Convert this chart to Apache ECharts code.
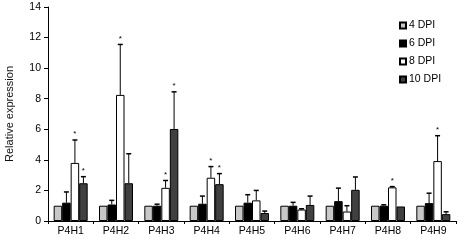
<!DOCTYPE html>
<html><head><meta charset="utf-8">
<script src="https://cdn.jsdelivr.net/npm/echarts@6/dist/echarts.min.js"></script>
<style>html,body{margin:0;padding:0;background:#fff}#c{width:459px;height:241px}</style>
</head><body><div id="c"></div>
<script>
var categories = ['P4H1','P4H2','P4H3','P4H4','P4H5','P4H6','P4H7','P4H8','P4H9'];
var seriesNames = ['4 DPI','6 DPI','8 DPI','10 DPI'];
var dpi4 = [1,1,1,1,1,1,1,1,1];
var dpi4Sd = [0,0,0,0,0,0,0,0,0];
var dpi6 = [1.2,1.08,1.0,1.13,1.2,1.0,1.3,1.0,1.17];
var dpi6Sd = [0.7,0.27,0.1,0.5,0.52,0.22,0.85,0.06,0.65];
var dpi8 = [3.8,8.25,2.17,2.83,1.35,0.75,0.62,2.2,3.92];
var dpi8Sd = [1.5,3.3,0.48,0.73,0.65,0.05,0.38,0.05,1.66];
var dpi10 = [2.47,2.47,6.02,2.41,0.52,1.05,2.04,0.95,0.45];
var dpi10Sd = [0.43,1.93,2.43,0.69,0.13,0.58,0.84,0,0.15];
var dpi4Star = [0,0,0,0,0,0,0,0,0];
var dpi6Star = [0,0,0,0,0,0,0,0,0];
var dpi8Star = [1,1,1,1,0,0,0,1,1];
var dpi10Star = [1,0,1,1,0,0,0,0,0];
var yTicks = {min:0, max:14, interval:2};

var values = [dpi4, dpi6, dpi8, dpi10];
var sds = [dpi4Sd, dpi6Sd, dpi8Sd, dpi10Sd];
var stars = [dpi4Star, dpi6Star, dpi8Star, dpi10Star];
var fills = ['#c8c8c8','#000000','#ffffff','#404040'];
var FONT = '"Liberation Sans", Arial, sans-serif';
var CAT_GAP = 0.25;

var series = [];
seriesNames.forEach(function(name, k){
  series.push({
    name: name, type: 'bar', data: values[k],
    barGap: '0%', barCategoryGap: (CAT_GAP*100)+'%',
    itemStyle: {color: fills[k], borderColor: '#000', borderWidth: 1},
    emphasis: {disabled: true}
  });
});
seriesNames.forEach(function(name, k){
  var data = categories.map(function(c, i){ return [i, values[k][i], sds[k][i], stars[k][i]]; });
  series.push({
    type: 'custom', name: name + ' err', data: data, z: 5,
    encode: {x: 0, y: 1},
    renderItem: function(params, api){
      var idx = api.value(0), v = api.value(1), sd = api.value(2), st = api.value(3);
      var band = api.size([1, 0])[0];
      var bw = band * (1 - CAT_GAP) / 4;
      var base = api.coord([idx, v]);
      var top = api.coord([idx, v + sd]);
      var x = base[0] + (k - 1.5) * bw;
      var ch = [];
      if (sd > 0) {
        ch.push({type:'line', shape:{x1:x, y1:base[1], x2:x, y2:top[1]}, style:{stroke:'#000', lineWidth:1}});
        ch.push({type:'line', shape:{x1:x-2.5, y1:top[1], x2:x+2.5, y2:top[1]}, style:{stroke:'#000', lineWidth:1.5}});
      }
      if (st) {
        ch.push({type:'text', style:{text:'*', x:x, y:top[1]-2, align:'center', verticalAlign:'bottom', fontSize:8, fill:'#000', fontFamily: FONT}});
      }
      return {type:'group', children: ch};
    }
  });
});

var chart = echarts.init(document.getElementById('c'), null, {renderer:'canvas'});
chart.setOption({
  animation: false,
  backgroundColor: '#fff',
  textStyle: {fontFamily: FONT},
  grid: {left: 48, right: 3, top: 7, bottom: 20, containLabel: false, outerBoundsMode: 'none'},
  legend: {
    data: seriesNames, orient: 'vertical', left: 394, top: 15,
    itemWidth: 6, itemHeight: 6, itemGap: 7, icon: 'rect',
    textStyle: {fontSize: 10.5, color: '#000', fontFamily: FONT, padding: [0,0,0,-2]},
    selectedMode: false
  },
  xAxis: {
    type: 'category', data: categories,
    axisLine: {lineStyle: {color: '#000', width: 1}},
    axisTick: {show: true, length: 3, lineStyle: {color: '#000'}},
    axisLabel: {fontSize: 10.5, color: '#000', margin: 5, fontFamily: FONT},
    splitLine: {show: false}
  },
  yAxis: {
    type: 'value', min: yTicks.min, max: yTicks.max, interval: yTicks.interval,
    name: 'Relative expression', nameLocation: 'middle', nameGap: 33,
    nameTextStyle: {fontSize: 11, color: '#111', fontFamily: FONT},
    axisLine: {show: true, lineStyle: {color: '#000', width: 1}},
    axisTick: {show: true, length: 4, lineStyle: {color: '#000'}},
    axisLabel: {fontSize: 10.5, color: '#000', margin: 7, fontFamily: FONT},
    splitLine: {show: false}
  },
  series: series
});
</script></body></html>
